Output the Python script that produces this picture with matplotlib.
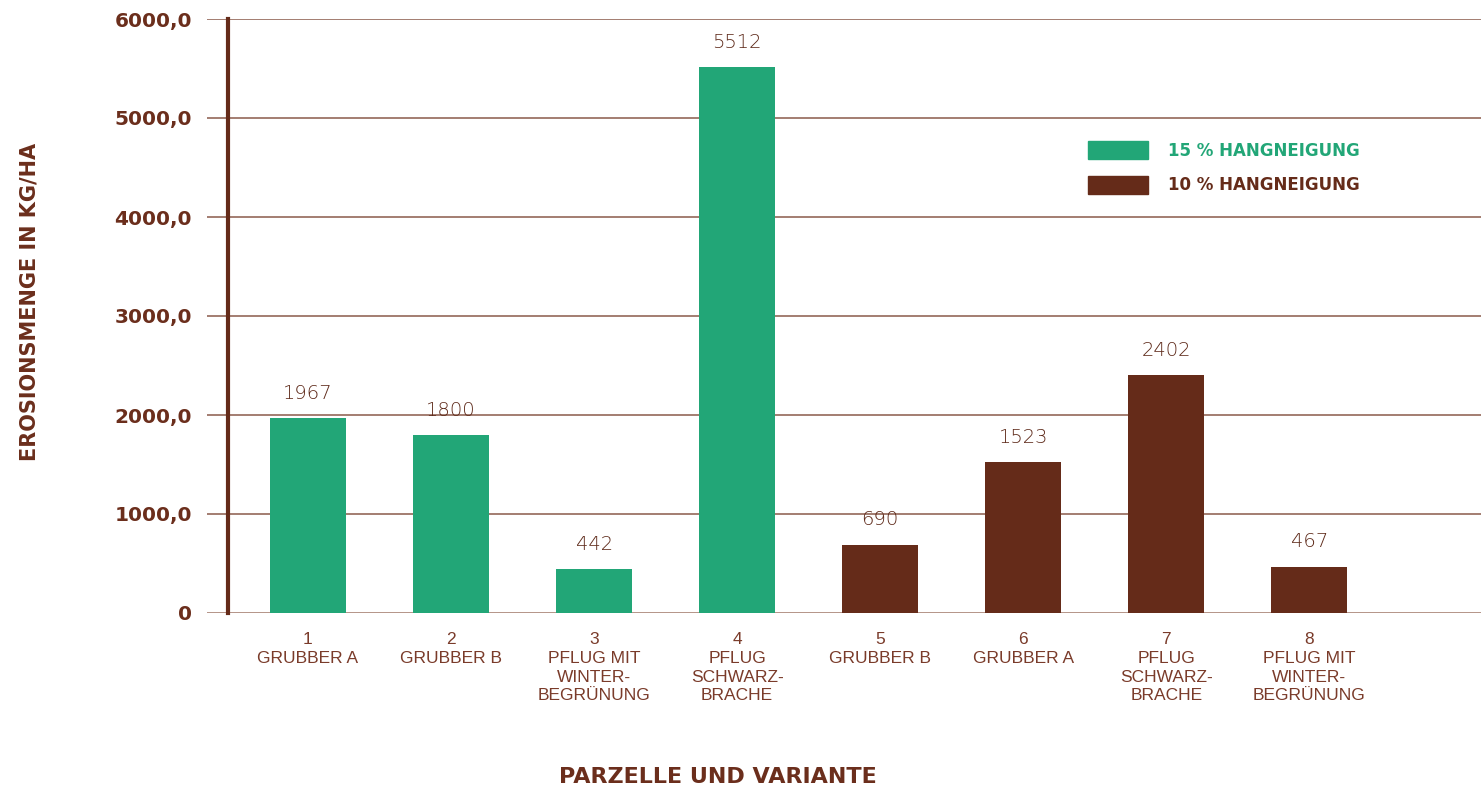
import matplotlib
matplotlib.use('Agg')
import matplotlib.pyplot as plt
from matplotlib.patches import Patch

# data
categories = ["1\nGRUBBER A", "2\nGRUBBER B", "3\nPFLUG MIT\nWINTER-\nBEGRÜNUNG",
              "4\nPFLUG\nSCHWARZ-\nBRACHE", "5\nGRUBBER B", "6\nGRUBBER A",
              "7\nPFLUG\nSCHWARZ-\nBRACHE", "8\nPFLUG MIT\nWINTER-\nBEGRÜNUNG"]
values = [1967, 1800, 442, 5512, 690, 1523, 2402, 467]
groups = ["15", "15", "15", "15", "10", "10", "10", "10"]
yticks = [0, 1000, 2000, 3000, 4000, 5000, 6000]
ytick_labels = ["0", "1000,0", "2000,0", "3000,0", "4000,0", "5000,0", "6000,0"]
legend_labels = ["15 % HANGNEIGUNG", "10 % HANGNEIGUNG"]

GREEN = "#22a677"
BROWN = "#652b19"
TEXT = "#6b2e1c"
GRID = "#8a5a4a"

colors = [GREEN if g == "15" else BROWN for g in groups]

fig = plt.figure(figsize=(14.81, 7.92), dpi=100)
ax = fig.add_axes([207 / 1481, (792 - 613) / 792, (1481 - 207) / 1481, (613 - 19) / 792])

x = list(range(len(values)))
bars = ax.bar(x, values, width=0.53, color=colors, zorder=3)

for b, v in zip(bars, values):
    ax.annotate(str(v), (b.get_x() + b.get_width() / 2, b.get_height()),
                xytext=(0, 11), textcoords="offset points", ha="center", va="bottom",
                fontsize=14, color="#5e2a1a", fontfamily="DejaVu Sans", fontweight="light")

ax.set_xlim(-0.706, 8.2)
ax.set_ylim(0, 6000)

for t in yticks:
    ax.axhline(t, color=GRID if t else "#a07868", lw=1.1, zorder=1)

for s in ["top", "right", "bottom"]:
    ax.spines[s].set_visible(False)
ax.spines["left"].set_position(("data", -0.56))
ax.spines["left"].set_color(BROWN)
ax.spines["left"].set_linewidth(3)
ax.spines["left"].set_zorder(4)

ax.set_yticks(yticks)
ax.set_yticklabels(ytick_labels, fontsize=14.5, fontweight="bold", color=TEXT,
                   fontfamily="DejaVu Sans")
ax.tick_params(axis="y", length=0, pad=26)

ax.set_xticks(x)
ax.set_xticklabels(categories, fontsize=12.5, color="#7a3b2a", fontfamily="Liberation Sans",
                   linespacing=1.3)
ax.tick_params(axis="x", length=0, pad=14)

fig.text(30 / 1481, 1 - 302 / 792, "EROSIONSMENGE IN KG/HA", rotation=90, ha="center",
         va="center", fontsize=15, fontweight="bold", color=TEXT, fontfamily="DejaVu Sans")
fig.text(718 / 1481, 1 - 777 / 792, "PARZELLE UND VARIANTE", ha="center", va="center",
         fontsize=16, fontweight="bold", color=TEXT, fontfamily="DejaVu Sans")

handles = [Patch(color=GREEN), Patch(color=BROWN)]
leg = ax.legend(handles, legend_labels, loc="upper left",
                bbox_to_anchor=(1073 / 1481, 1 - 126 / 792), bbox_transform=fig.transFigure,
                frameon=False, handlelength=3.6, handleheight=1.3, handletextpad=1.2,
                labelspacing=0.95, labelcolor=[GREEN, BROWN],
                prop={"family": "DejaVu Sans", "weight": "bold", "size": 12})

fig.savefig("out.png", dpi=100)
